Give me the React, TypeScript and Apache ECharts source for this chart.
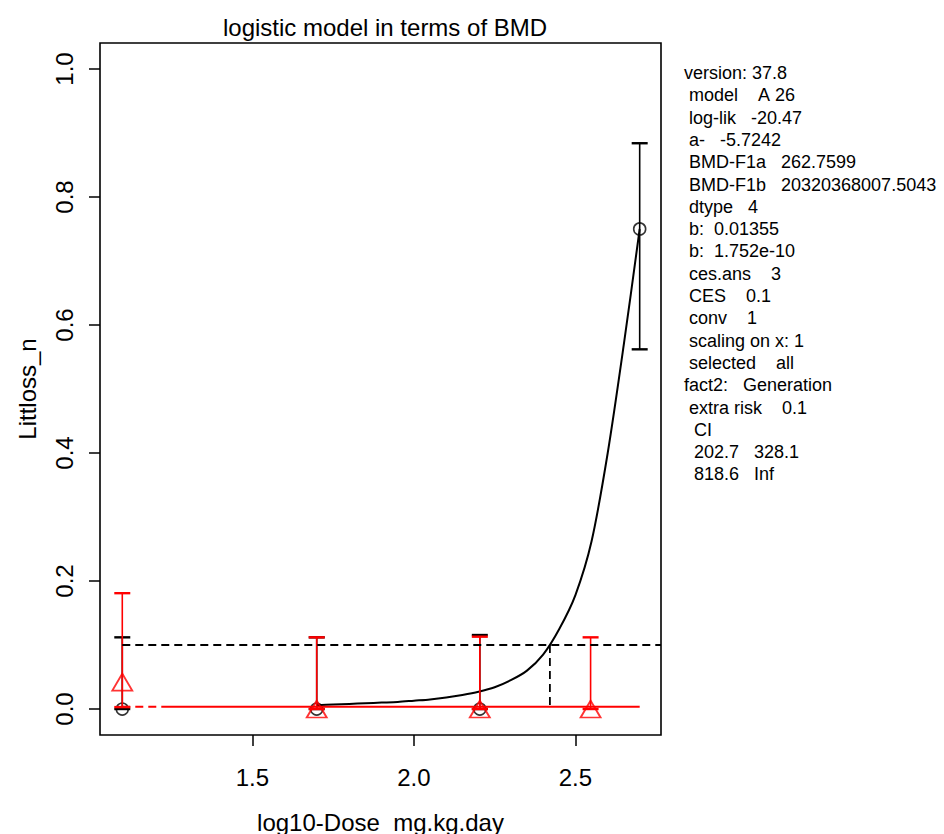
import React, { useEffect, useRef } from "react";
import * as echarts from "echarts";

// ---- data ----
const xTickValues = [1.5, 2.0, 2.5];
const yTickValues = [0, 0.2, 0.4, 0.6, 0.8, 1.0];

// fitted logistic curve (black)
const curveX = [1.699, 1.75, 1.8, 1.85, 1.9, 1.95, 2.0, 2.05, 2.1, 2.15, 2.2, 2.25, 2.3, 2.35, 2.4, 2.45, 2.5, 2.55, 2.6, 2.65, 2.699];
const curveY = [0.006, 0.007, 0.008, 0.009, 0.01, 0.011, 0.013, 0.015, 0.018, 0.022, 0.027, 0.034, 0.045, 0.06, 0.085, 0.125, 0.178, 0.262, 0.4, 0.57, 0.75];

// black observations (circles) with confidence bars
const blackX = [1.097, 1.699, 2.204, 2.699];
const blackY = [0, 0, 0, 0.75];
const blackLow = [0, 0, 0, 0.562];
const blackHigh = [0.112, 0.112, 0.1156, 0.884];

// red observations (triangles) with confidence bars
const redX = [1.097, 1.699, 2.204, 2.547];
const redY = [0.042, 0, 0, 0];
const redLow = [0.003, 0, 0, 0];
const redHigh = [0.181, 0.112, 0.113, 0.112];

// red fitted background level
const redLevel = 0.0036;
const redDashX = [1.097, 1.22];
const redSolidX = [1.22, 2.699];

// BMD reference lines
const cesLevel = 0.1;
const bmdX = 2.421;
const xMin = 1.028;
const xMax = 2.765;
const yMin = -0.0406;
const yMax = 1.0406;

const titleText = "logistic model in terms of BMD";
const xName = "log10-Dose_mg.kg.day";
const yName = "Littloss_n";

const infoLines = [
  "version: 37.8",
  " model    A 26",
  " log-lik   -20.47",
  " a-   -5.7242",
  " BMD-F1a   262.7599",
  " BMD-F1b   20320368007.5043",
  " dtype   4",
  " b:  0.01355",
  " b:  1.752e-10",
  " ces.ans    3",
  " CES    0.1",
  " conv    1",
  " scaling on x: 1",
  " selected    all",
  "fact2:   Generation",
  " extra risk    0.1",
  "  CI",
  "  202.7   328.1",
  "  818.6   Inf",
];

const FONT = "'Liberation Sans', Arial, Helvetica, sans-serif";

function errorBarRender(color: string) {
  return (params: any, api: any) => {
    const x = api.value(0);
    const lo = api.value(1);
    const hi = api.value(2);
    const p1 = api.coord([x, lo]);
    const p2 = api.coord([x, hi]);
    const hw = 8;
    return {
      type: "group",
      children: [
        { type: "line", shape: { x1: p1[0], y1: p1[1], x2: p2[0], y2: p2[1] }, style: { stroke: color, lineWidth: 1.6 } },
        { type: "line", shape: { x1: p2[0] - hw, y1: p2[1], x2: p2[0] + hw, y2: p2[1] }, style: { stroke: color, lineWidth: 2.4 } },
        { type: "line", shape: { x1: p1[0] - hw, y1: p1[1], x2: p1[0] + hw, y2: p1[1] }, style: { stroke: color, lineWidth: 2.4 } },
      ],
    };
  };
}

export default function App() {
  const ref = useRef<HTMLDivElement>(null);
  useEffect(() => {
    if (!ref.current) return;
    const chart = echarts.init(ref.current, undefined, { renderer: "svg" });
    const nb = (s: string) => s.replace(/ /g, "\u00a0");
    const option: any = {
      animation: false,
      backgroundColor: "#ffffff",
      grid: {
        left: 100,
        top: 43,
        width: 561,
        height: 692,
        show: true,
        borderColor: "#000",
        borderWidth: 1.6,
        backgroundColor: "transparent",
        containLabel: false,
        outerBoundsMode: "none",
      },
      xAxis: {
        type: "value",
        min: xMin,
        max: xMax,
        axisLine: { show: false, onZero: false },
        splitLine: { show: false },
        axisTick: { show: true, customValues: xTickValues, length: 11, lineStyle: { color: "#000", width: 1.5 } },
        axisLabel: {
          customValues: xTickValues,
          formatter: (v: number) => v.toFixed(1),
          fontSize: 24,
          fontFamily: FONT,
          color: "#000",
          margin: 30,
        },
        name: xName,
        nameLocation: "middle",
        nameGap: 75,
        nameTextStyle: { fontSize: 24, fontFamily: FONT, color: "#000" },
      },
      yAxis: {
        type: "value",
        min: yMin,
        max: yMax,
        axisLine: { show: false, onZero: false },
        splitLine: { show: false },
        axisTick: { show: true, customValues: yTickValues, length: 11, lineStyle: { color: "#000", width: 1.5 } },
        axisLabel: {
          customValues: yTickValues,
          formatter: (v: number) => v.toFixed(1),
          rotate: 90,
          fontSize: 24,
          fontFamily: FONT,
          color: "#000",
          margin: 24,
        },
        name: yName,
        nameLocation: "middle",
        nameRotate: 90,
        nameGap: 61,
        nameTextStyle: { fontSize: 24, fontFamily: FONT, color: "#000" },
      },
      graphic: [
        {
          type: "text",
          x: 385,
          y: 27,
          style: {
            text: titleText,
            fontSize: 24,
            fontFamily: FONT,
            fill: "#000",
            textAlign: "center",
            textVerticalAlign: "middle",
          },
        },
        ...infoLines.map((t, i) => ({
          type: "text",
          x: 684,
          y: 73 + i * 22.3,
          style: {
            text: nb(t),
            fontSize: 18,
            fontFamily: FONT,
            fill: "#000",
            textAlign: "left",
            textVerticalAlign: "middle",
          },
        })),
      ],
      series: [
        {
          type: "line",
          data: curveX.map((x, i) => [x, curveY[i]]),
          showSymbol: false,
          smooth: 0.3,
          lineStyle: { color: "#000", width: 2 },
          z: 2,
        },
        {
          type: "custom",
          renderItem: errorBarRender("#000"),
          data: blackX.map((x, i) => [x, blackLow[i], blackHigh[i]]),
          encode: { x: 0, y: [1, 2] },
          z: 3,
        },
        {
          type: "scatter",
          data: blackX.map((x, i) => [x, blackY[i]]),
          symbol: "circle",
          symbolSize: 12,
          itemStyle: { color: "rgba(0,0,0,0)", borderColor: "#000", borderWidth: 1.6 },
          z: 4,
        },
        {
          type: "line",
          data: redDashX.map((x) => [x, redLevel]),
          showSymbol: false,
          lineStyle: { color: "#ff0000", width: 2, type: [8, 5] },
          z: 5,
        },
        {
          type: "line",
          data: redSolidX.map((x) => [x, redLevel]),
          showSymbol: false,
          lineStyle: { color: "#ff0000", width: 2 },
          z: 5,
        },
        {
          type: "custom",
          renderItem: errorBarRender("#ff0000"),
          data: redX.map((x, i) => [x, redLow[i], redHigh[i]]),
          encode: { x: 0, y: [1, 2] },
          z: 6,
        },
        {
          type: "scatter",
          data: redX.map((x, i) => [x, redY[i]]),
          symbol: "triangle",
          symbolSize: [20, 17],
          itemStyle: { color: "rgba(0,0,0,0)", borderColor: "#ff0000", borderWidth: 1.8 },
          z: 7,
        },
        {
          type: "line",
          data: [
            [blackX[0], cesLevel],
            [xMax, cesLevel],
          ],
          showSymbol: false,
          lineStyle: { color: "#000", width: 1.8, type: [8, 5] },
          z: 8,
        },
        {
          type: "line",
          data: [
            [bmdX, cesLevel],
            [bmdX, 0],
          ],
          showSymbol: false,
          lineStyle: { color: "#000", width: 1.8, type: [8, 5] },
          z: 8,
        },
      ],
    };
    chart.setOption(option);
    return () => chart.dispose();
  }, []);
  return (
    <div
      ref={ref}
      style={{ position: "fixed", left: 0, top: 0, width: 944, height: 834, background: "#fff" }}
    />
  );
}
